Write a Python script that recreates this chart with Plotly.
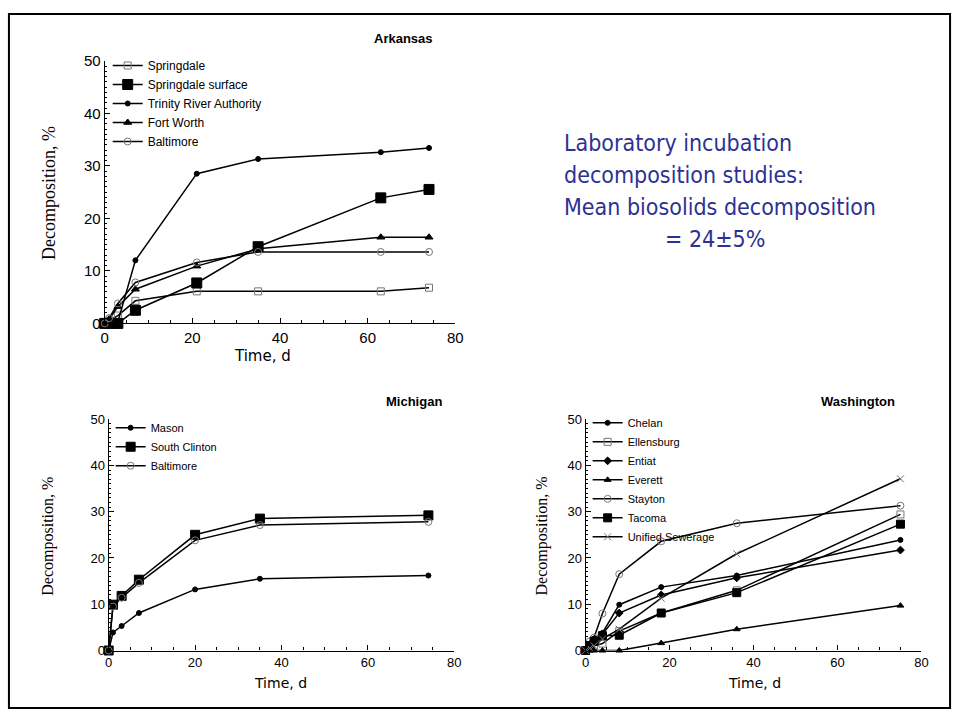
import plotly.graph_objects as go

# ---------------- data ----------------
ark_t = [0, 1, 3, 7, 21, 35, 63, 74]
ark_springdale = [0, 0.5, 1.5, 4.3, 6.1, 6.1, 6.1, 6.8]
ark_springdale_surface = [0, 0, 0, 2.5, 7.7, 14.6, 23.9, 25.5]
ark_trinity = [0, 0.2, 0.3, 12.0, 28.5, 31.3, 32.6, 33.4]
ark_fortworth = [0, 0.8, 3.2, 6.5, 10.9, 14.2, 16.4, 16.4]
ark_baltimore = [0, 1.0, 3.8, 7.8, 11.6, 13.6, 13.6, 13.6]

mi_t = [0, 1, 3, 7, 20, 35, 74]
mi_mason = [0, 3.9, 5.3, 8.1, 13.2, 15.5, 16.2]
mi_southclinton = [0, 9.9, 11.8, 15.3, 25.0, 28.5, 29.2]
mi_baltimore = [0, 9.5, 11.4, 14.6, 23.8, 27.1, 27.8]

wa_t = [0, 1, 2, 4, 8, 18, 36, 75]
wa_chelan = [0, 1.5, 2.6, 3.8, 9.9, 13.7, 16.2, 23.9]
wa_ellensburg = [0, 0.5, 1.0, 1.5, 4.2, 8.1, 13.0, 29.4]
wa_entiat = [0, 1.2, 2.2, 3.5, 8.1, 12.0, 15.7, 21.7]
wa_everett = [0, 0, 0, 0, 0, 1.6, 4.6, 9.7]
wa_stayton = [0, 2.0, 2.8, 8.0, 16.5, 23.6, 27.5, 31.3]
wa_tacoma = [0, 1.0, 2.0, 3.2, 3.3, 8.1, 12.5, 27.3]
wa_unified = [0, 0.5, 1.0, 2.5, 4.6, 11.3, 20.9, 37.1]

W, H = 963, 721
BLUE = "#2E3192"
GRAY = "#777777"

fig = go.Figure()


def add(x, y, name, xa, ya, legend, symbol, size, mcolor, lcolor="black", fill=True):
    fig.add_trace(go.Scatter(
        x=x, y=y, name=name, xaxis=xa, yaxis=ya, legend=legend,
        mode="lines+markers", cliponaxis=False,
        line=dict(color="black", width=1.5),
        marker=dict(symbol=symbol, size=size,
                    color=mcolor if fill else "white",
                    line=dict(color=lcolor, width=1)),
    ))


# Arkansas
add(ark_t, ark_springdale, "Springdale", "x", "y", "legend", "square-open", 7, GRAY, GRAY, True)
add(ark_t, ark_springdale_surface, "Springdale surface", "x", "y", "legend", "square", 10, "black")
add(ark_t, ark_trinity, "Trinity River Authority", "x", "y", "legend", "circle", 5, "black")
add(ark_t, ark_fortworth, "Fort Worth", "x", "y", "legend", "triangle-up", 7, "black")
add(ark_t, ark_baltimore, "Baltimore", "x", "y", "legend", "circle-open", 7, GRAY, GRAY, True)

# Michigan
add(mi_t, mi_mason, "Mason", "x2", "y2", "legend2", "circle", 5, "black")
add(mi_t, mi_southclinton, "South Clinton", "x2", "y2", "legend2", "square", 9, "black")
add(mi_t, mi_baltimore, "Baltimore", "x2", "y2", "legend2", "circle-open", 7, GRAY, GRAY, True)

# Washington
add(wa_t, wa_chelan, "Chelan", "x3", "y3", "legend3", "circle", 5, "black")
add(wa_t, wa_ellensburg, "Ellensburg", "x3", "y3", "legend3", "square-open", 7, GRAY, GRAY, True)
add(wa_t, wa_entiat, "Entiat", "x3", "y3", "legend3", "diamond", 6, "black")
add(wa_t, wa_everett, "Everett", "x3", "y3", "legend3", "triangle-up", 6, "black")
add(wa_t, wa_stayton, "Stayton", "x3", "y3", "legend3", "circle-open", 7, GRAY, GRAY, True)
add(wa_t, wa_tacoma, "Tacoma", "x3", "y3", "legend3", "square", 8, "black")
add(wa_t, wa_unified, "Unified Sewerage", "x3", "y3", "legend3", "x-thin-open", 7, GRAY, GRAY, True)


def px_x(p):
    return p / W


def px_y(p):
    return 1 - p / H


def xaxis(dom, anchor, fs):
    return dict(domain=dom, anchor=anchor, range=[0, 80], dtick=20, tick0=0,
                showline=True, linecolor="black", linewidth=1.2, showgrid=False,
                zeroline=False, ticks="inside", ticklen=5, tickcolor="black",
                minor=dict(dtick=5, ticks="inside", ticklen=3, tickcolor="black"),
                tickfont=dict(family="Liberation Sans", size=fs, color="black"))


def yaxis(dom, anchor, fs):
    return dict(domain=dom, anchor=anchor, range=[0, 50], dtick=10, tick0=0,
                showline=True, linecolor="black", linewidth=1.2, showgrid=False,
                zeroline=False, ticks="inside", ticklen=5, tickcolor="black",
                minor=dict(dtick=1, ticks="inside", ticklen=2, tickcolor="black"),
                tickfont=dict(family="Liberation Sans", size=fs, color="black"))


legfont = "Liberation Sans"

fig.update_layout(
    width=W, height=H, margin=dict(l=0, r=0, t=0, b=0),
    paper_bgcolor="white", plot_bgcolor="white", showlegend=True,
    xaxis=xaxis([px_x(102), px_x(457)], "y", 15),
    yaxis=yaxis([px_y(322), px_y(53)], "x", 15),
    xaxis2=xaxis([px_x(106), px_x(456)], "y2", 13),
    yaxis2=yaxis([px_y(657), px_y(420)], "x2", 13),
    xaxis3=xaxis([px_x(589), px_x(929)], "y3", 13),
    yaxis3=yaxis([px_y(657), px_y(420)], "x3", 13),
    legend=dict(x=px_x(105), y=px_y(43), xanchor="left", yanchor="top",
                bgcolor="rgba(0,0,0,0)", font=dict(family=legfont, size=12, color="black"),
                itemwidth=30, tracegroupgap=0),
    legend2=dict(x=px_x(108), y=px_y(414), xanchor="left", yanchor="top",
                 bgcolor="rgba(0,0,0,0)", font=dict(family=legfont, size=11, color="black"),
                 itemwidth=30, tracegroupgap=0),
    legend3=dict(x=px_x(591), y=px_y(409), xanchor="left", yanchor="top",
                 bgcolor="rgba(0,0,0,0)", font=dict(family=legfont, size=11, color="black"),
                 itemwidth=30, tracegroupgap=0),
)

ann = []


def text(x, y, s, size, family="Liberation Sans", color="black", angle=0, xanchor="center", bold=False):
    ann.append(dict(x=px_x(x), y=px_y(y), xref="paper", yref="paper", text=("<b>%s</b>" % s) if bold else s,
                    showarrow=False, textangle=angle, xanchor=xanchor, yanchor="middle",
                    font=dict(family=family, size=size, color=color)))


text(405, 30, "Arkansas", 13, bold=True)
text(415, 402, "Michigan", 13, bold=True)
text(865, 402, "Washington", 13, bold=True)

text(262, 355, "Time, d", 15, family="DejaVu Sans")
text(280, 690, "Time, d", 14, family="DejaVu Sans")
text(760, 690, "Time, d", 14, family="DejaVu Sans")

text(45, 188, "Decomposition, %", 18, family="Liberation Sans Narrow", angle=-90)
text(45, 540, "Decomposition, %", 16, family="Liberation Sans Narrow", angle=-90)
text(545, 540, "Decomposition, %", 16, family="Liberation Sans Narrow", angle=-90)

lines = ["Laboratory incubation", "decomposition studies:", "Mean biosolids decomposition"]
for i, s in enumerate(lines):
    text(565, 137 + 33 * i, s, 23, family="DejaVu Sans Condensed", color=BLUE, xanchor="left")
text(667, 236, "= 24±5%", 23, family="DejaVu Sans Condensed", color=BLUE, xanchor="left")

fig.update_layout(annotations=ann)

fig.add_shape(type="rect", xref="paper", yref="paper",
              x0=px_x(5), x1=px_x(958), y0=px_y(716), y1=px_y(5),
              line=dict(color="black", width=2))

fig.write_html("out.html")
